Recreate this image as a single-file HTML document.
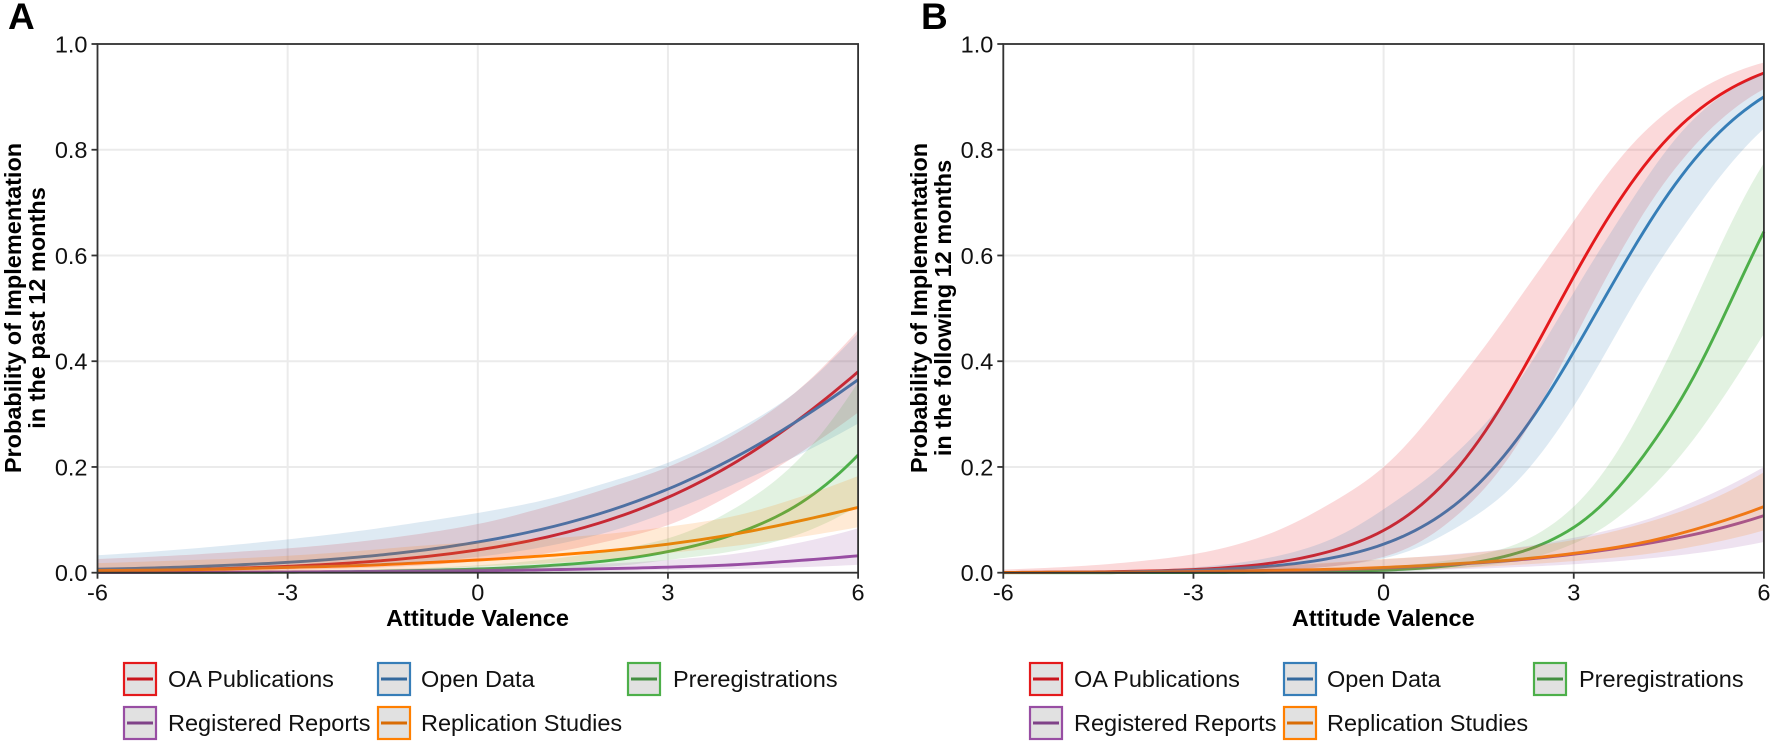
<!DOCTYPE html>
<html lang="en">
<head>
<meta charset="utf-8">
<title>Probability of Implementation by Attitude Valence</title>
<style>
html,body{margin:0;padding:0;background:#fff;}
svg{display:block;font-family:"Liberation Sans",Arial,sans-serif;}
.tick-text{font-size:23.5px;fill:#111;}
.axis-title{font-size:23.5px;font-weight:bold;fill:#000;}
.legend-text{font-size:23.5px;fill:#111;}
.panel-letter{font-size:37px;font-weight:bold;fill:#000;}
.key-bg{fill:#e1e1e1;stroke-width:2.2;}
.key-line{stroke-width:3;}
</style>
</head>
<body>
<svg id="figure" width="1772" height="742" viewBox="0 0 1772 742" xmlns="http://www.w3.org/2000/svg">
  <rect x="0" y="0" width="1772" height="742" fill="#fff"/>
  <g id="panel-a"></g>
  <g id="panel-b"></g>

  <text class="panel-letter" x="8" y="29">A</text>
  <text class="panel-letter" x="921" y="29">B</text>

  <text class="axis-title" x="477.5" y="626" text-anchor="middle">Attitude Valence</text>
  <text class="axis-title" x="1383.3" y="626" text-anchor="middle">Attitude Valence</text>

  <text class="axis-title" text-anchor="middle" transform="translate(21 308) rotate(-90)">Probability of Implementation</text>
  <text class="axis-title" text-anchor="middle" transform="translate(45 308) rotate(-90)">in the past 12 months</text>
  <text class="axis-title" text-anchor="middle" transform="translate(927 308) rotate(-90)">Probability of Implementation</text>
  <text class="axis-title" text-anchor="middle" transform="translate(951 308) rotate(-90)">in the following 12 months</text>

  <g>
    <g>
      <rect class="key-bg" x="124" y="663" width="32" height="32" stroke="#E41A1C"/>
      <line class="key-line" x1="127" x2="153" y1="679" y2="679" stroke="#c9141c"/>
      <text class="legend-text" x="168" y="687">OA Publications</text>
    </g>
    <g>
      <rect class="key-bg" x="378" y="663" width="32" height="32" stroke="#377EB8"/>
      <line class="key-line" x1="381" x2="407" y1="679" y2="679" stroke="#33699d"/>
      <text class="legend-text" x="421" y="687">Open Data</text>
    </g>
    <g>
      <rect class="key-bg" x="628" y="663" width="32" height="32" stroke="#4DAF4A"/>
      <line class="key-line" x1="631" x2="657" y1="679" y2="679" stroke="#438f41"/>
      <text class="legend-text" x="673" y="687">Preregistrations</text>
    </g>
    <g>
      <rect class="key-bg" x="124" y="707" width="32" height="32" stroke="#984EA3"/>
      <line class="key-line" x1="127" x2="153" y1="723" y2="723" stroke="#7f4288"/>
      <text class="legend-text" x="168" y="731">Registered Reports</text>
    </g>
    <g>
      <rect class="key-bg" x="378" y="707" width="32" height="32" stroke="#FF7F00"/>
      <line class="key-line" x1="381" x2="407" y1="723" y2="723" stroke="#d96c05"/>
      <text class="legend-text" x="421" y="731">Replication Studies</text>
    </g>
  </g>

  <g transform="translate(906 0)">
    <g>
      <rect class="key-bg" x="124" y="663" width="32" height="32" stroke="#E41A1C"/>
      <line class="key-line" x1="127" x2="153" y1="679" y2="679" stroke="#c9141c"/>
      <text class="legend-text" x="168" y="687">OA Publications</text>
    </g>
    <g>
      <rect class="key-bg" x="378" y="663" width="32" height="32" stroke="#377EB8"/>
      <line class="key-line" x1="381" x2="407" y1="679" y2="679" stroke="#33699d"/>
      <text class="legend-text" x="421" y="687">Open Data</text>
    </g>
    <g>
      <rect class="key-bg" x="628" y="663" width="32" height="32" stroke="#4DAF4A"/>
      <line class="key-line" x1="631" x2="657" y1="679" y2="679" stroke="#438f41"/>
      <text class="legend-text" x="673" y="687">Preregistrations</text>
    </g>
    <g>
      <rect class="key-bg" x="124" y="707" width="32" height="32" stroke="#984EA3"/>
      <line class="key-line" x1="127" x2="153" y1="723" y2="723" stroke="#7f4288"/>
      <text class="legend-text" x="168" y="731">Registered Reports</text>
    </g>
    <g>
      <rect class="key-bg" x="378" y="707" width="32" height="32" stroke="#FF7F00"/>
      <line class="key-line" x1="381" x2="407" y1="723" y2="723" stroke="#d96c05"/>
      <text class="legend-text" x="421" y="731">Replication Studies</text>
    </g>
  </g>
</svg>

<script>
// Shared categories and tick labels
const attitudeValues = [-6, -5, -4, -3, -2, -1, 0, 1, 2, 3, 4, 5, 6];
const xTickValues = [-6, -3, 0, 3, 6];
const xTickLabels = ['-6', '-3', '0', '3', '6'];
const yTickValues = [0, 0.2, 0.4, 0.6, 0.8, 1];
const yTickLabels = ['0.0', '0.2', '0.4', '0.6', '0.8', '1.0'];
const seriesKeys = ['oa-publications', 'open-data', 'preregistrations', 'registered-reports', 'replication-studies'];
const seriesColors = ['#E41A1C', '#377EB8', '#4DAF4A', '#984EA3', '#FF7F00'];

// Panel A: past 12 months
const aOaMean = [0.0033, 0.0051, 0.0078, 0.0121, 0.0185, 0.0283, 0.0431, 0.0650, 0.0971, 0.1425, 0.2042, 0.2840, 0.380];
const aOaUpper = [0.026, 0.031, 0.038, 0.046, 0.057, 0.072, 0.092, 0.122, 0.158, 0.200, 0.258, 0.340, 0.459];
const aOaLower = [0.001, 0.002, 0.003, 0.005, 0.008, 0.013, 0.022, 0.035, 0.058, 0.090, 0.148, 0.220, 0.303];
const aDataMean = [0.0065, 0.0094, 0.0137, 0.0196, 0.0283, 0.0406, 0.0580, 0.0819, 0.1146, 0.1582, 0.2145, 0.2840, 0.365];
const aDataUpper = [0.033, 0.041, 0.051, 0.063, 0.077, 0.094, 0.113, 0.136, 0.169, 0.208, 0.265, 0.340, 0.453];
const aDataLower = [0.002, 0.003, 0.005, 0.008, 0.012, 0.019, 0.030, 0.048, 0.075, 0.115, 0.165, 0.219, 0.282];
const aPreregMean = [0.0002, 0.0003, 0.0006, 0.0010, 0.0020, 0.0040, 0.0070, 0.0126, 0.0220, 0.0400, 0.0710, 0.1250, 0.2226];
const aPreregUpper = [0.001, 0.001, 0.001, 0.002, 0.004, 0.008, 0.014, 0.024, 0.040, 0.065, 0.118, 0.207, 0.360];
const aPreregLower = [0.0001, 0.0001, 0.0001, 0.0002, 0.0005, 0.001, 0.003, 0.006, 0.011, 0.024, 0.040, 0.070, 0.127];
const aRegMean = [0.0005, 0.0007, 0.001, 0.0015, 0.002, 0.003, 0.004, 0.0055, 0.0075, 0.0105, 0.0148, 0.0225, 0.032];
const aRegUpper = [0.002, 0.003, 0.003, 0.004, 0.006, 0.008, 0.010, 0.013, 0.017, 0.024, 0.035, 0.055, 0.084];
const aRegLower = [0.0001, 0.0001, 0.0002, 0.0003, 0.0005, 0.0007, 0.001, 0.002, 0.003, 0.005, 0.007, 0.010, 0.015];
const aRepMean = [0.004, 0.005, 0.007, 0.010, 0.013, 0.018, 0.024, 0.0315, 0.041, 0.054, 0.072, 0.096, 0.1236];
const aRepUpper = [0.018, 0.022, 0.026, 0.032, 0.040, 0.050, 0.058, 0.064, 0.073, 0.087, 0.106, 0.140, 0.183];
const aRepLower = [0.001, 0.001, 0.002, 0.003, 0.005, 0.007, 0.012, 0.017, 0.025, 0.037, 0.050, 0.066, 0.086];

// Panel B: following 12 months
const bOaMean = [0.0004, 0.001, 0.0025, 0.006, 0.0148, 0.0356, 0.080, 0.175, 0.343, 0.560, 0.752, 0.878, 0.945];
const bOaUpper = [0.006, 0.011, 0.020, 0.035, 0.065, 0.120, 0.200, 0.335, 0.495, 0.665, 0.820, 0.915, 0.965];
const bOaLower = [0.0001, 0.0002, 0.0005, 0.001, 0.004, 0.010, 0.030, 0.093, 0.222, 0.440, 0.660, 0.820, 0.915];
const bDataMean = [0.0003, 0.0008, 0.0019, 0.0044, 0.0103, 0.024, 0.054, 0.117, 0.236, 0.418, 0.625, 0.795, 0.900];
const bDataUpper = [0.001, 0.002, 0.004, 0.010, 0.024, 0.055, 0.120, 0.210, 0.340, 0.530, 0.720, 0.870, 0.945];
const bDataLower = [0.0002, 0.0005, 0.001, 0.002, 0.004, 0.010, 0.027, 0.075, 0.160, 0.315, 0.520, 0.700, 0.840];
const bPreregMean = [0.0001, 0.0001, 0.0002, 0.0004, 0.001, 0.002, 0.0048, 0.0127, 0.0336, 0.0857, 0.205, 0.395, 0.645];
const bPreregUpper = [0.0002, 0.0003, 0.0005, 0.001, 0.002, 0.005, 0.011, 0.023, 0.050, 0.125, 0.293, 0.537, 0.775];
const bPreregLower = [0.00005, 0.00005, 0.0001, 0.0001, 0.0002, 0.001, 0.002, 0.007, 0.020, 0.055, 0.135, 0.270, 0.452];
const bRegMean = [0.0005, 0.001, 0.001, 0.002, 0.003, 0.005, 0.009, 0.015, 0.023, 0.035, 0.052, 0.075, 0.108];
const bRegUpper = [0.001, 0.002, 0.004, 0.007, 0.011, 0.017, 0.025, 0.034, 0.046, 0.066, 0.095, 0.140, 0.200];
const bRegLower = [0.0001, 0.0002, 0.0003, 0.0005, 0.0008, 0.0015, 0.003, 0.006, 0.010, 0.016, 0.025, 0.038, 0.058];
const bRepMean = [0.0005, 0.001, 0.001, 0.002, 0.004, 0.006, 0.010, 0.016, 0.024, 0.0366, 0.055, 0.085, 0.125];
const bRepUpper = [0.002, 0.003, 0.005, 0.008, 0.012, 0.018, 0.026, 0.033, 0.045, 0.062, 0.090, 0.130, 0.190];
const bRepLower = [0.0001, 0.0002, 0.0004, 0.0008, 0.0015, 0.0025, 0.004, 0.008, 0.014, 0.022, 0.033, 0.052, 0.080];

const panelAMeans = [aOaMean, aDataMean, aPreregMean, aRegMean, aRepMean];
const panelAUppers = [aOaUpper, aDataUpper, aPreregUpper, aRegUpper, aRepUpper];
const panelALowers = [aOaLower, aDataLower, aPreregLower, aRegLower, aRepLower];
const panelBMeans = [bOaMean, bDataMean, bPreregMean, bRegMean, bRepMean];
const panelBUppers = [bOaUpper, bDataUpper, bPreregUpper, bRegUpper, bRepUpper];
const panelBLowers = [bOaLower, bDataLower, bPreregLower, bRegLower, bRepLower];

const SVG_NS = 'http://www.w3.org/2000/svg';
const PLOT_TOP = 44;
const PLOT_BOTTOM = 572.7;
const PLOT_WIDTH = 760.6;
const SUBSTEPS = 10;

function yScale(p) {
  return PLOT_BOTTOM - (PLOT_BOTTOM - PLOT_TOP) * p;
}

function makeXScale(left) {
  return function (v) {
    return left + (v + 6) / 12 * PLOT_WIDTH;
  };
}

function svgEl(tag) {
  return document.createElementNS(SVG_NS, tag);
}

function logit(p) {
  const q = Math.min(Math.max(p, 1e-6), 1 - 1e-6);
  return Math.log(q / (1 - q));
}

function invLogit(l) {
  return Math.exp(l) / (1 + Math.exp(l));
}

// Smooth the read values on the logit scale so the drawn curves stay sigmoid
function curvePoints(values, xScale) {
  const l = values.map(logit);
  const n = l.length;
  const m = [];
  for (let i = 1; i < n - 1; i++) {
    m[i] = (l[i + 1] - l[i - 1]) / (attitudeValues[i + 1] - attitudeValues[i - 1]);
  }
  m[0] = (3 * (l[1] - l[0]) - m[1]) / 2;
  m[n - 1] = (3 * (l[n - 1] - l[n - 2]) - m[n - 2]) / 2;
  const pts = [];
  for (let i = 0; i < n - 1; i++) {
    const h = attitudeValues[i + 1] - attitudeValues[i];
    for (let s = 0; s < SUBSTEPS; s++) {
      const t = s / SUBSTEPS;
      const h00 = 2 * t * t * t - 3 * t * t + 1;
      const h10 = t * t * t - 2 * t * t + t;
      const h01 = -2 * t * t * t + 3 * t * t;
      const h11 = t * t * t - t * t;
      const val = h00 * l[i] + h10 * h * m[i] + h01 * l[i + 1] + h11 * h * m[i + 1];
      pts.push([xScale(attitudeValues[i] + t * h), yScale(invLogit(val))]);
    }
  }
  pts.push([xScale(attitudeValues[n - 1]), yScale(values[n - 1])]);
  return pts;
}

function pointsToPath(pts) {
  return 'M' + pts.map(function (p) {
    return p[0].toFixed(2) + ' ' + p[1].toFixed(2);
  }).join('L');
}

function drawPanel(groupId, left, means, uppers, lowers) {
  const group = document.getElementById(groupId);
  const xScale = makeXScale(left);
  const right = left + PLOT_WIDTH;

  xTickValues.forEach(function (v) {
    const grid = svgEl('line');
    
    
    grid.setAttribute('x1', xScale(v));
    grid.setAttribute('x2', xScale(v));
    grid.setAttribute('y1', PLOT_TOP);
    grid.setAttribute('y2', PLOT_BOTTOM);
    grid.setAttribute('stroke', '#ebebeb');
    grid.setAttribute('stroke-width', '2');
    group.appendChild(grid);
  });

  yTickValues.forEach(function (v) {
    const grid = svgEl('line');
    
    
    grid.setAttribute('x1', left);
    grid.setAttribute('x2', right);
    grid.setAttribute('y1', yScale(v));
    grid.setAttribute('y2', yScale(v));
    grid.setAttribute('stroke', '#ebebeb');
    grid.setAttribute('stroke-width', '2');
    group.appendChild(grid);
  });

  seriesKeys.forEach(function (key, i) {
    const line = svgEl('path');
    
    
    line.setAttribute('d', pointsToPath(curvePoints(means[i], xScale)));
    line.setAttribute('fill', 'none');
    line.setAttribute('stroke', seriesColors[i]);
    line.setAttribute('stroke-width', '2.9');
    group.appendChild(line);
  });

  seriesKeys.forEach(function (key, i) {
    const band = svgEl('path');
    
    
    const upperPts = curvePoints(uppers[i], xScale);
    const lowerPts = curvePoints(lowers[i], xScale).reverse();
    band.setAttribute('d', pointsToPath(upperPts.concat(lowerPts)) + 'Z');
    band.setAttribute('fill', seriesColors[i]);
    band.setAttribute('fill-opacity', '0.165');
    band.setAttribute('stroke', 'none');
    group.appendChild(band);
  });

  const border = svgEl('rect');
  
  
  border.setAttribute('x', left);
  border.setAttribute('y', PLOT_TOP);
  border.setAttribute('width', PLOT_WIDTH);
  border.setAttribute('height', PLOT_BOTTOM - PLOT_TOP);
  border.setAttribute('fill', 'none');
  border.setAttribute('stroke', '#333333');
  border.setAttribute('stroke-width', '1.8');
  group.appendChild(border);

  xTickValues.forEach(function (v, i) {
    const tick = svgEl('line');
    
    
    tick.setAttribute('x1', xScale(v));
    tick.setAttribute('x2', xScale(v));
    tick.setAttribute('y1', PLOT_BOTTOM);
    tick.setAttribute('y2', PLOT_BOTTOM + 6);
    tick.setAttribute('stroke', '#333333');
    tick.setAttribute('stroke-width', '1.8');
    group.appendChild(tick);

    const label = svgEl('text');
    
    
    label.setAttribute('class', 'tick-text');
    label.setAttribute('x', xScale(v));
    label.setAttribute('y', 600.5);
    label.setAttribute('text-anchor', 'middle');
    label.textContent = xTickLabels[i];
    group.appendChild(label);
  });

  yTickValues.forEach(function (v, i) {
    const tick = svgEl('line');
    
    
    tick.setAttribute('x1', left - 6);
    tick.setAttribute('x2', left);
    tick.setAttribute('y1', yScale(v));
    tick.setAttribute('y2', yScale(v));
    tick.setAttribute('stroke', '#333333');
    tick.setAttribute('stroke-width', '1.8');
    group.appendChild(tick);

    const label = svgEl('text');
    
    
    label.setAttribute('class', 'tick-text');
    label.setAttribute('x', left - 10);
    label.setAttribute('y', yScale(v) + 8.4);
    label.setAttribute('text-anchor', 'end');
    label.textContent = yTickLabels[i];
    group.appendChild(label);
  });
}

drawPanel('panel-a', 97.5, panelAMeans, panelAUppers, panelALowers);
drawPanel('panel-b', 1003.3, panelBMeans, panelBUppers, panelBLowers);
</script>
</body>
</html>
